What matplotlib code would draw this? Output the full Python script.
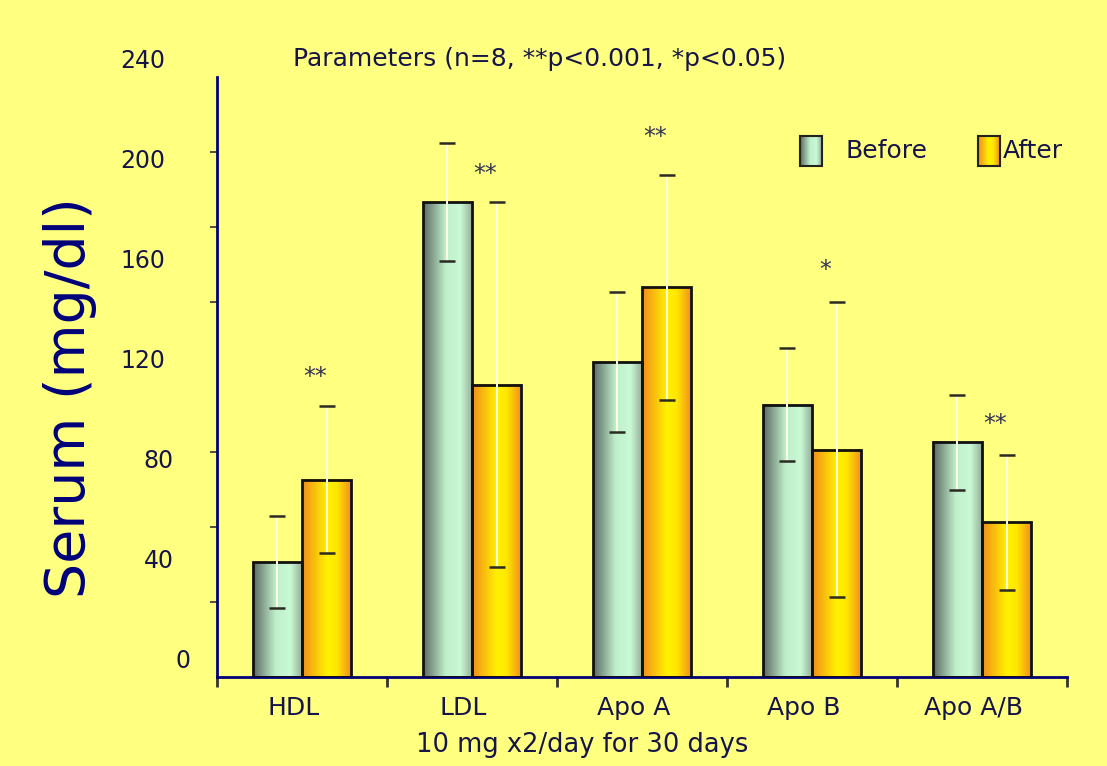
import numpy as np
import matplotlib.pyplot as plt
from matplotlib.colors import LinearSegmentedColormap
from matplotlib.transforms import offset_copy

# data
categories = ["HDL", "LDL", "Apo A", "Apo B", "Apo A/B"]
before = [46, 190, 126, 109, 94]
before_err = [18.5, 23.5, 28, 22.5, 19]
after = [79, 117, 156, 91, 62]
after_err = [29.5, 73, 45, 59, 27]
stars = ["**", "**", "**", "*", "**"]
star_y = [120, 201, 216, 163, 101]
yticks = [0, 40, 80, 120, 160, 200, 240]

bg = "#FFFF80"
navy = "#00007A"
txt = "#15154A"
font = "DejaVu Sans"

cm_before = LinearSegmentedColormap.from_list(
    "before", [(0, "#5c6860"), (0.45, "#bfeecb"), (0.75, "#c9fad4"), (1, "#93a898")])
cm_after = LinearSegmentedColormap.from_list(
    "after", [(0, "#f28c1c"), (0.5, "#fff200"), (0.7, "#ffe600"), (1, "#f28c1c")])
grad = np.linspace(0, 1, 256).reshape(1, -1)

fig = plt.figure(figsize=(11.07, 7.66), dpi=100, facecolor=bg)
ax = fig.add_axes([217 / 1107, 1 - 677 / 766, 850 / 1107, 600 / 766])
ax.set_facecolor(bg)

x = np.arange(len(categories))
w = 0.29

for vals, errs, off, cmap in [(before, before_err, -w / 2, cm_before),
                              (after, after_err, w / 2, cm_after)]:
    bars = ax.bar(x + off, vals, width=w, color="none", edgecolor="#111111",
                  linewidth=2, zorder=3)
    for b in bars:
        x0, x1 = b.get_x(), b.get_x() + b.get_width()
        ax.imshow(grad, cmap=cmap, aspect="auto", extent=[x0, x1, 0, b.get_height()],
                  zorder=2, interpolation="bicubic")
    _, caps, lines = ax.errorbar(x + off, vals, yerr=errs, fmt="none", ecolor="#FFFFE0",
                                 elinewidth=1.4, capsize=5.5, capthick=1.8, zorder=4)
    for c in caps:
        c.set_markeredgecolor("#2a2a22")

for i, s in enumerate(stars):
    ax.text(x[i] + 0.08, star_y[i], s, ha="center", va="center", fontsize=17,
            color="#333355", family=font)

ax.set_xlim(-0.5, 4.5)
ax.set_ylim(0, 240)

# y axis: labels every 40 (drawn a bit above their ticks), small ticks every 30
ax.set_yticks(yticks)
ax.set_yticklabels([str(v) for v in yticks], fontsize=17, color=txt, family=font)
ax.tick_params(axis="y", which="major", length=0, pad=37)
ax.set_yticks(np.arange(0, 241, 30), minor=True)
ax.tick_params(axis="y", which="minor", length=5, width=1.2, color="#333333")
label_dx = {"0": 18, "40": 6, "80": 6}
for lbl in ax.get_yticklabels():
    dx = label_dx.get(lbl.get_text(), 0)
    lbl.set_transform(offset_copy(lbl.get_transform(), fig=fig, x=dx, y=13, units="points"))

# x axis: ticks at category boundaries, labels centred
ax.set_xticks(np.arange(-0.5, 5, 1))
ax.set_xticklabels([])
ax.set_xticks(x, minor=True)
ax.set_xticklabels(categories, minor=True, fontsize=18, color=txt, family=font)
ax.tick_params(axis="x", which="major", length=7, width=2, color="#333333", direction="out")
ax.tick_params(axis="x", which="minor", length=0, pad=14)
for lbl in ax.get_xticklabels(minor=True):
    lbl.set_transform(offset_copy(lbl.get_transform(), fig=fig, x=-6, y=0, units="points"))

for side in ["top", "right"]:
    ax.spines[side].set_visible(False)
for side in ["left", "bottom"]:
    ax.spines[side].set_color(navy)
    ax.spines[side].set_linewidth(2)

fig.text(70 / 1107, 1 - 398 / 766, "Serum (mg/dl)", rotation=90, ha="center", va="center",
         fontsize=40, color=navy, family=font)
ax.text(0.38, 1.03, "Parameters (n=8, **p<0.001, *p<0.05)", transform=ax.transAxes,
        ha="center", va="center", fontsize=18, color=txt, family=font)
ax.text(0.43, -0.113, "10 mg x2/day for 30 days", transform=ax.transAxes,
        ha="center", va="center", fontsize=18.5, color=txt, family=font)

# legend with gradient swatches
for lab, cmap, px, tx in [("Before", cm_before, 800, 845), ("After", cm_after, 978, 1003)]:
    x0 = (px - 217) / 850
    x1 = (px + 22 - 217) / 850
    y0 = (677 - 166) / 600
    y1 = (677 - 136) / 600
    ax.imshow(grad, cmap=cmap, aspect="auto", extent=[x0, x1, y0, y1],
              transform=ax.transAxes, zorder=5)
    ax.add_patch(plt.Rectangle((x0, y0), x1 - x0, y1 - y0, transform=ax.transAxes,
                               fill=False, edgecolor="#222222", linewidth=1.5, zorder=6))
    ax.text((tx - 217) / 850, (y0 + y1) / 2, lab, transform=ax.transAxes, ha="left",
            va="center", fontsize=18, color=txt, family=font)

ax.set_xlim(-0.5, 4.5)
ax.set_ylim(0, 240)

fig.savefig("out.png", dpi=100, facecolor=bg)
